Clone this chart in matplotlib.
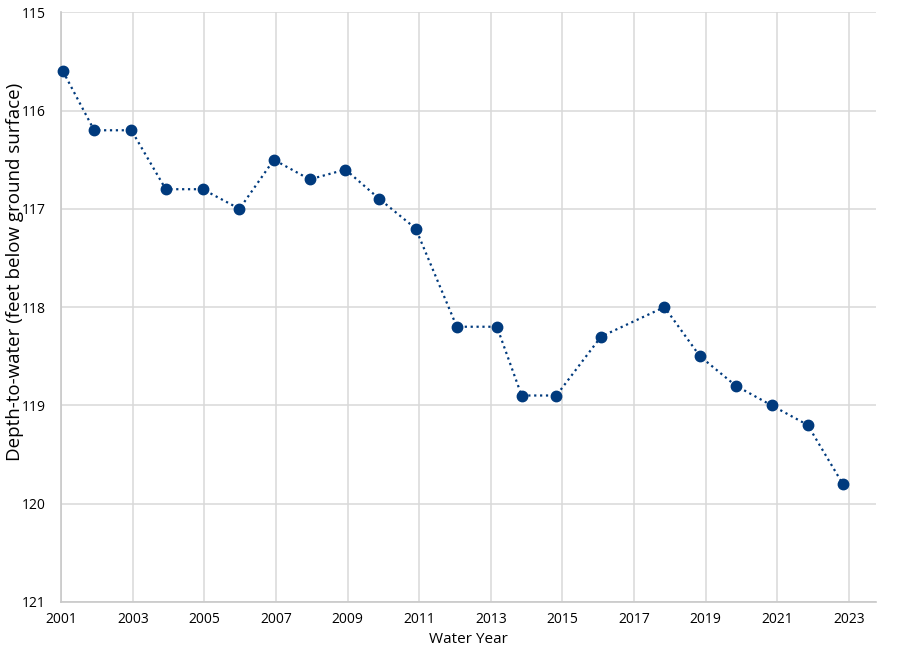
import matplotlib.pyplot as plt

# Water year measurements (fractional year of measurement) and depth to water
years = [2001.05, 2001.92, 2002.96, 2003.92, 2004.95, 2005.98, 2006.94,
         2007.94, 2008.94, 2009.89, 2010.90, 2012.05, 2013.17, 2013.86,
         2014.83, 2016.08, 2017.85, 2018.84, 2019.84, 2020.84, 2021.85,
         2022.83]
depth = [115.6, 116.2, 116.2, 116.8, 116.8, 117.0, 116.5,
         116.7, 116.6, 116.9, 117.2, 118.2, 118.2, 118.9,
         118.9, 118.3, 118.0, 118.5, 118.8, 119.0, 119.2,
         119.8]
x_ticks = list(range(2001, 2024, 2))
y_ticks = [115, 116, 117, 118, 119, 120, 121]

plt.rcParams['font.family'] = ['Open Sans', 'DejaVu Sans']

fig = plt.figure(figsize=(9, 6.52), dpi=100)
ax = fig.add_axes([0.068, 0.077, 0.905, 0.904])

ax.plot(years, depth, color="#003a7d", linestyle=":", linewidth=1.6,
        marker="o", markersize=7.5, zorder=3, clip_on=False)

ax.set_xlim(2001, 2023.75)
ax.set_ylim(121, 115)
ax.set_xticks(x_ticks)
ax.set_yticks(y_ticks)
ax.grid(True, color="#d9d9d9", linewidth=1.1)
ax.set_axisbelow(True)

for side in ["top", "right"]:
    ax.spines[side].set_visible(False)
for side in ["left", "bottom"]:
    ax.spines[side].set_color("#c8c8c8")
    ax.spines[side].set_linewidth(1.2)

ax.tick_params(axis="both", length=0, labelsize=10, colors="black")
ax.tick_params(axis="y", pad=11)
ax.tick_params(axis="x", pad=7)

ax.set_xlabel("Water Year", fontsize=11)
ax.set_ylabel("Depth-to-water (feet below ground surface)", fontsize=13.5)
ax.yaxis.set_label_coords(-0.046, 0.56)

fig.savefig("out.png", dpi=100)
